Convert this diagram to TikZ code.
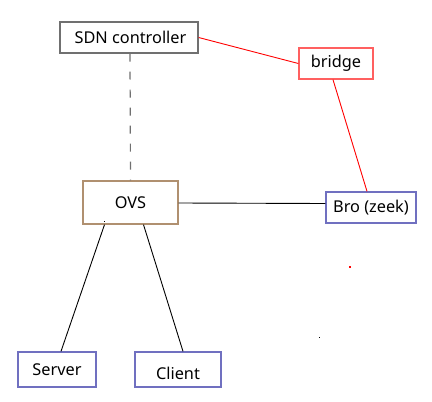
\documentclass[tikz,border=0pt]{standalone}
\usepackage{fontspec}
\setmainfont{Noto Sans}
\usetikzlibrary{calc}
\definecolor{boxgray}{HTML}{707070}
\definecolor{boxred}{HTML}{FF6060}
\definecolor{boxtan}{HTML}{B09070}
\definecolor{boxblue}{HTML}{7070C0}
\begin{document}
\begin{tikzpicture}[x=1pt,y=-1pt,
  boxfont/.style={font=\fontsize{16.3}{19}\selectfont},
  box/.style={draw, line width=1.3pt, rectangle, inner sep=0pt, boxfont},
  redline/.style={draw=red, line width=0.9pt},
  blackline/.style={draw=black, line width=0.9pt},
  dashline/.style={draw=boxgray, line width=1.2pt, dash pattern=on 8pt off 10pt}]
\useasboundingbox (0,0) rectangle (432,402);
\fill[white] (0,0) rectangle (432,402);
\node[box, draw=boxgray, minimum width=138pt, minimum height=31pt] (sdn) at (129,37.5) {\hspace*{3pt}SDN controller};
\node[box, draw=boxred, minimum width=74pt, minimum height=31pt] (bridge) at (336,63.5) {bridge};
\node[box, draw=boxtan, minimum width=95pt, minimum height=43pt] (ovs) at (130.5,202.5) {OVS};
\node[box, draw=boxblue, minimum width=90pt, minimum height=31pt] (bro) at (371,207.5) {Bro (zeek)};
\node[box, draw=boxblue, minimum width=78pt, minimum height=35pt] (server) at (57,369.5) {Server};
\node[box, draw=boxblue, minimum width=86pt, minimum height=35pt,
  label={[boxfont, inner sep=0pt, yshift=-4pt]center:Client}] (client) at (178,369.5) {};
\draw[redline] (sdn.east) -- (bridge.west);
\draw[redline] ([xshift=-3pt]bridge.south) -- ([xshift=-4pt]bro.north);
\draw[dashline] ([xshift=1pt]sdn.south) -- (ovs.north);
\draw[blackline] ([yshift=-0.5pt]ovs.east) -- ([yshift=4pt]bro.west);
\draw[blackline] ([xshift=-26pt]ovs.south) -- ([xshift=4pt]server.north);
\draw[blackline] ([xshift=13pt]ovs.south) -- ([xshift=5pt]client.north);
\coordinate (dotA) at (350,267);
\coordinate (dotB) at (319.5,337.5);
\coordinate (dotC) at (104.5,221);
\fill[red] ($(dotA)+(-0.6,-0.6)$) rectangle ($(dotA)+(0.6,0.6)$);
\fill[black] ($(dotB)+(-0.6,-0.6)$) rectangle ($(dotB)+(0.6,0.6)$);
\fill[black] ($(dotC)+(-0.5,-0.5)$) rectangle ($(dotC)+(0.5,0.5)$);
\end{tikzpicture}
\end{document}
